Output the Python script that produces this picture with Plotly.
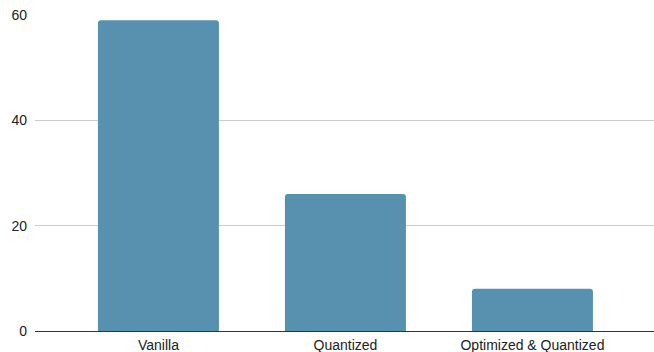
import plotly.graph_objects as go

categories = ["Vanilla", "Quantized", "Optimized & Quantized"]
values = [59, 26, 8]
y_ticks = [0, 20, 40, 60]

fig = go.Figure(go.Bar(
    x=categories, y=values,
    marker=dict(color="#5891AF", line=dict(width=0)),
    width=0.647,
))
fig.update_layout(
    width=654, height=352,
    margin=dict(l=35, r=0, t=15, b=21),
    plot_bgcolor="white", paper_bgcolor="white",
    font=dict(family="Liberation Sans, Arial", size=14, color="#222222"),
    barcornerradius=3,
    showlegend=False,
    xaxis=dict(range=[-0.66, 2.65], showgrid=False, showline=True,
               linecolor="#333333", linewidth=1, ticks="", ticklabelstandoff=1,
               automargin=False, tickfont=dict(size=14)),
    yaxis=dict(range=[0, 60], tickvals=y_ticks, showgrid=True,
               gridcolor="#cccccc", gridwidth=1, zeroline=False,
               showline=False, ticks="", ticklabelstandoff=7,
               automargin=False, tickfont=dict(size=14)),
)
fig.write_html("out.html")
